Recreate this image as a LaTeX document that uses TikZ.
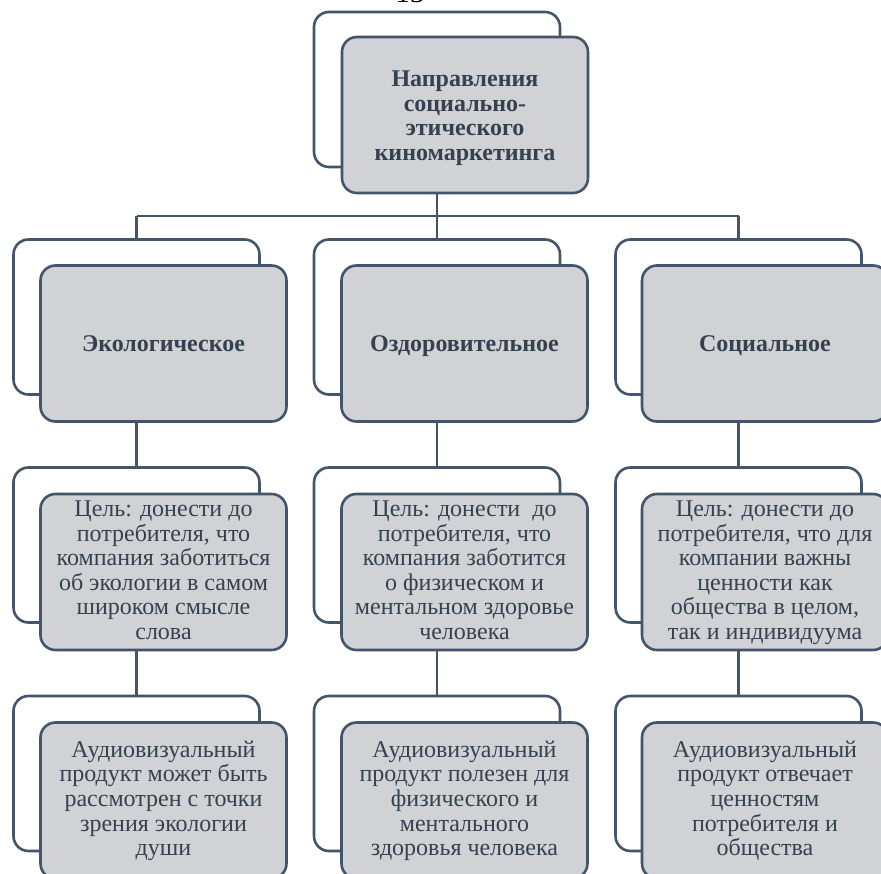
\documentclass[tikz,border=0pt]{standalone}
\usepackage{fontspec}
\setmainfont{Liberation Serif}
\definecolor{lineC}{HTML}{44546A}
\definecolor{fillC}{HTML}{D0D2D6}
\definecolor{textC}{HTML}{36414F}
\newcommand{\firstl}{\rule{0pt}{18pt}}
\newcommand{\lastl}{\rule[-6pt]{0pt}{6pt}}
\tikzset{
  backbox/.style={draw=lineC, line width=2.6pt, fill=white, rectangle, rounded corners=15pt,
    minimum width=246pt, minimum height=155pt, inner sep=0pt},
  frontbox/.style={draw=lineC, line width=2.6pt, fill=fillC, rectangle, rounded corners=15pt,
    minimum width=246pt, minimum height=156pt, inner sep=0pt, align=center, text=textC},
  boldtxt/.style={font=\fontsize{24}{24.4}\selectfont\bfseries, align=center, text=textC, inner sep=0pt},
  regtxt/.style={font=\fontsize{24}{24.6}\selectfont},
  conn/.style={draw=lineC, line width=2.3pt},
}
\begin{document}
\begin{tikzpicture}[x=1pt, y=-1pt]
\useasboundingbox (0,0) rectangle (881,874);
\clip (0,0) rectangle (881,874);
% page number fragment
\node[anchor=base, font=\fontsize{29}{29}\selectfont, text=black, inner sep=0pt] (pg) at (410,3) {13};
% top
\node[backbox] (b0) at (437,89.5) {};
\node[frontbox] (f0) at (465,115) {};
\node[boldtxt] (t0) at ([yshift=-2.6pt]f0.center) {\firstl Направления\\социально-\\этического\\киномаркетинга\lastl};
% row 2
\node[backbox] (b1) at (136.5,317) {};
\node[frontbox] (f1) at (163.5,343.5) {};
\node[boldtxt, anchor=base] (t1) at ([yshift=-8.5pt]f1.center) {Экологическое};
\node[backbox] (b2) at (437,317) {};
\node[frontbox] (f2) at (464.5,343.5) {};
\node[boldtxt, anchor=base] (t2) at ([yshift=-8.5pt]f2.center) {Оздоровительное};
\node[backbox] (b3) at (738.5,317) {};
\node[frontbox] (f3) at (765,343.5) {};
\node[boldtxt, anchor=base] (t3) at ([yshift=-8.5pt]f3.center) {Социальное};
% row 3
\node[backbox] (c1) at (136.5,545) {};
\node[frontbox, regtxt] (g1) at (163.5,572) {\firstl Цель: донести до\\потребителя, что\\компания заботиться\\об экологии в самом\\широком смысле\\слова\lastl};
\node[backbox] (c2) at (437,545) {};
\node[frontbox, regtxt] (g2) at (464.5,572) {\firstl Цель: донести~~до\\потребителя, что\\компания заботится\\о физическом и\\ментальном здоровье\\человека\lastl};
\node[backbox] (c3) at (738.5,545) {};
\node[frontbox, regtxt] (g3) at (765,572) {\firstl Цель: донести до\\потребителя, что для\\компании важны\\ценности как\\общества в целом,\\так и индивидуума\lastl};
% row 4
\node[backbox] (d1) at (136.5,773.5) {};
\node[frontbox, regtxt] (h1) at (163.5,800.5) {\firstl Аудиовизуальный\\продукт может быть\\рассмотрен с точки\\зрения экологии\\души\lastl};
\node[backbox] (d2) at (437,773.5) {};
\node[frontbox, regtxt] (h2) at (464.5,800.5) {\firstl Аудиовизуальный\\продукт полезен для\\физического и\\ментального\\здоровья человека\lastl};
\node[backbox] (d3) at (738.5,773.5) {};
\node[frontbox, regtxt] (h3) at (765,800.5) {\firstl Аудиовизуальный\\продукт отвечает\\ценностям\\потребителя и\\общества\lastl};
% connectors
\coordinate (bus) at (437,216);
\draw[conn] (f0.south -| b0.north) -- (bus);
\draw[conn] (b1.north |- bus) -- (b3.north |- bus);
\draw[conn] (b1.north |- bus) -- (b1.north);
\draw[conn] (bus) -- (b2.north);
\draw[conn] (b3.north |- bus) -- (b3.north);
\draw[conn] (f1.south -| b1.north) -- (c1.north);
\draw[conn] (f2.south -| b2.north) -- (c2.north);
\draw[conn] (f3.south -| b3.north) -- (c3.north);
\draw[conn] (g1.south -| c1.north) -- (d1.north);
\draw[conn] (g2.south -| c2.north) -- (d2.north);
\draw[conn] (g3.south -| c3.north) -- (d3.north);
\end{tikzpicture}
\end{document}
